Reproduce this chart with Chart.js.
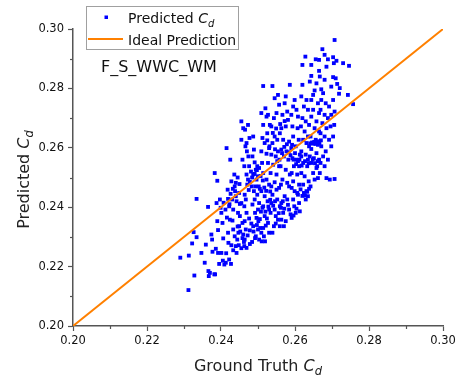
<!DOCTYPE html>
<html>
<head>
<meta charset="utf-8">
<script src="https://cdn.jsdelivr.net/npm/chart.js@4/dist/chart.umd.min.js"></script>
<style>
html,body{margin:0;padding:0;background:#fff;}
#wrap{position:relative;width:468px;height:379px;}
</style>
</head>
<body>
<div id="wrap"><canvas id="c" width="468" height="379"></canvas></div>
<script>
// Axis range and ticks
const axisMin = 0.20;
const axisMax = 0.30;
const majorStep = 0.02;
const minorTicks = [0.21, 0.23, 0.25, 0.27, 0.29];

// Ideal prediction line (y = x) end points
const idealGT = [0.20, 0.30];
const idealPred = [0.20, 0.30];

// Scatter: [ground truth Cd, predicted Cd]
const scatterPairs = [
[0.2290,0.2230],[0.2313,0.2237],[0.2312,0.2121],[0.2328,0.2170],[0.2326,0.2316],[0.2334,0.2299],[0.2334,0.2428],[0.2322,0.2278],
[0.2347,0.2246],[0.2356,0.2213],[0.2359,0.2274],[0.2365,0.2401],[0.2366,0.2185],[0.2367,0.2168],[0.2370,0.2179],[0.2374,0.2308],[0.2376,0.2291],[0.2377,0.2250],[0.2382,0.2174],[0.2384,0.2174],
[0.2383,0.2515],[0.2390,0.2489],[0.2386,0.2260],[0.2388,0.2414],[0.2390,0.2353],[0.2392,0.2323],[0.2392,0.2246],[0.2395,0.2209],[0.2397,0.2426],[0.2399,0.2398],[0.2401,0.2381],[0.2401,0.2246],[0.2404,0.2347],[0.2406,0.2295],
[0.2415,0.2599],[0.2409,0.2207],[0.2413,0.2213],[0.2418,0.2459],[0.2419,0.2428],[0.2422,0.2403],[0.2424,0.2358],[0.2419,0.2314],[0.2420,0.2280],[0.2422,0.2224],[0.2427,0.2209],
[0.2425,0.2560],[0.2428,0.2487],[0.2430,0.2426],[0.2433,0.2392],[0.2436,0.2510],[0.2437,0.2470],[0.2438,0.2454],[0.2440,0.2437],[0.2442,0.2420],[0.2433,0.2325],[0.2437,0.2302],[0.2440,0.2269],[0.2442,0.2246],[0.2444,0.2291],[0.2447,0.2314],[0.2449,0.2336],[0.2451,0.2370],[0.2446,0.2381],[0.2451,0.2411],[0.2449,0.2448],
[0.2455,0.2689],[0.2460,0.2666],[0.2465,0.2661],[0.2455,0.2627],[0.2458,0.2560],[0.2463,0.2538],[0.2466,0.2605],[0.2469,0.2616],[0.2470,0.2588],[0.2473,0.2677],[0.2469,0.2510],[0.2473,0.2493],[0.2471,0.2476],[0.2464,0.2442],[0.2467,0.2426],[0.2463,0.2403],[0.2469,0.2381],[0.2464,0.2353],[0.2467,0.2325],[0.2460,0.2308],[0.2464,0.2291],[0.2463,0.2269],[0.2469,0.2263],[0.2458,0.2347],[0.2455,0.2414],[0.2476,0.2538],[0.2474,0.2571],[0.2477,0.2633],
[0.2487,0.2638],[0.2485,0.2571],[0.2489,0.2594],[0.2491,0.2551],[0.2494,0.2526],[0.2487,0.2510],[0.2496,0.2493],[0.2483,0.2470],[0.2489,0.2454],[0.2491,0.2426],[0.2485,0.2409],[0.2492,0.2381],[0.2496,0.2364],[0.2487,0.2336],[0.2500,0.2325],[0.2494,0.2302],[0.2503,0.2291],[0.2498,0.2538],[0.2500,0.2504],[0.2502,0.2470],[0.2498,0.2442],[0.2503,0.2414],[0.2500,0.2392],[0.2501,0.2353],
[0.2514,0.2808],[0.2520,0.2733],[0.2509,0.2717],[0.2523,0.2705],[0.2527,0.2711],[0.2514,0.2677],[0.2532,0.2677],[0.2512,0.2633],[0.2518,0.2616],[0.2525,0.2649],[0.2509,0.2588],[0.2530,0.2599],[0.2523,0.2580],[0.2511,0.2549],[0.2527,0.2549],[0.2514,0.2515],[0.2523,0.2493],[0.2530,0.2476],[0.2509,0.2454],[0.2518,0.2437],[0.2526,0.2420],[0.2514,0.2403],[0.2530,0.2392],[0.2518,0.2370],[0.2527,0.2347],[0.2514,0.2330],[0.2530,0.2314],[0.2509,0.2314],[0.2516,0.2302],
[0.2539,0.2808],[0.2545,0.2767],[0.2554,0.2778],[0.2557,0.2745],[0.2550,0.2717],[0.2543,0.2700],[0.2536,0.2672],[0.2545,0.2638],[0.2552,0.2627],[0.2539,0.2616],[0.2559,0.2649],[0.2536,0.2577],[0.2548,0.2571],[0.2554,0.2588],[0.2541,0.2543],[0.2557,0.2538],[0.2534,0.2515],[0.2550,0.2510],[0.2545,0.2484],[0.2536,0.2470],[0.2557,0.2465],[0.2539,0.2442],[0.2552,0.2426],[0.2536,0.2414],[0.2559,0.2403],[0.2545,0.2392],[0.2534,0.2381],[0.2548,0.2370],[0.2554,0.2358],[0.2543,0.2336],[0.2559,0.2336],[0.2539,0.2314],[0.2550,0.2459],
[0.2575,0.2773],[0.2586,0.2812],[0.2572,0.2750],[0.2579,0.2722],[0.2566,0.2711],[0.2581,0.2694],[0.2563,0.2666],[0.2575,0.2672],[0.2568,0.2627],[0.2584,0.2621],[0.2563,0.2594],[0.2577,0.2588],[0.2570,0.2571],[0.2582,0.2560],[0.2561,0.2538],[0.2575,0.2526],[0.2586,0.2510],[0.2566,0.2493],[0.2579,0.2482],[0.2562,0.2476],[0.2584,0.2470],[0.2572,0.2437],[0.2563,0.2414],[0.2579,0.2426],[0.2568,0.2381],[0.2584,0.2392],[0.2575,0.2353],[0.2563,0.2358],[0.2570,0.2336],
[0.2599,0.2761],[0.2595,0.2739],[0.2590,0.2711],[0.2604,0.2728],[0.2608,0.2705],[0.2593,0.2672],[0.2607,0.2666],[0.2595,0.2638],[0.2610,0.2627],[0.2590,0.2599],[0.2602,0.2605],[0.2613,0.2577],[0.2593,0.2565],[0.2604,0.2560],[0.2597,0.2538],[0.2611,0.2538],[0.2591,0.2515],[0.2606,0.2510],[0.2595,0.2487],[0.2611,0.2476],[0.2591,0.2465],[0.2599,0.2454],[0.2608,0.2442],[0.2595,0.2426],[0.2611,0.2414],[0.2602,0.2381],[0.2591,0.2364],[0.2613,0.2386],[0.2598,0.2403],
[0.2620,0.2812],[0.2620,0.2879],[0.2628,0.2907],[0.2617,0.2773],[0.2631,0.2761],[0.2624,0.2739],[0.2635,0.2728],[0.2620,0.2700],[0.2629,0.2689],[0.2638,0.2677],[0.2616,0.2672],[0.2626,0.2655],[0.2635,0.2638],[0.2622,0.2627],[0.2631,0.2616],[0.2638,0.2605],[0.2617,0.2588],[0.2629,0.2577],[0.2635,0.2560],[0.2622,0.2549],[0.2633,0.2538],[0.2617,0.2515],[0.2626,0.2504],[0.2637,0.2487],[0.2622,0.2476],[0.2631,0.2454],[0.2624,0.2448],[0.2635,0.2437],[0.2629,0.2426],[0.2617,0.2571],[0.2640,0.2571],
[0.2644,0.2879],[0.2656,0.2898],[0.2644,0.2842],[0.2665,0.2859],[0.2640,0.2823],[0.2658,0.2817],[0.2649,0.2778],[0.2653,0.2793],[0.2644,0.2761],[0.2662,0.2750],[0.2649,0.2728],[0.2665,0.2717],[0.2644,0.2705],[0.2658,0.2689],[0.2653,0.2666],[0.2665,0.2655],[0.2642,0.2638],[0.2656,0.2627],[0.2649,0.2614],[0.2662,0.2610],[0.2644,0.2596],[0.2658,0.2582],[0.2651,0.2565],[0.2665,0.2560],[0.2644,0.2549],[0.2658,0.2532],[0.2649,0.2515],[0.2662,0.2498],[0.2653,0.2493],[0.2642,0.2470],[0.2660,0.2538],
[0.2674,0.2932],[0.2680,0.2913],[0.2665,0.2896],[0.2689,0.2898],[0.2685,0.2873],[0.2667,0.2840],[0.2680,0.2829],[0.2671,0.2797],[0.2676,0.2784],[0.2671,0.2761],[0.2683,0.2750],[0.2692,0.2739],[0.2669,0.2728],[0.2680,0.2711],[0.2689,0.2700],[0.2674,0.2683],[0.2685,0.2666],[0.2669,0.2649],[0.2680,0.2638],[0.2692,0.2627],[0.2671,0.2605],[0.2683,0.2588],[0.2676,0.2571],[0.2689,0.2560],[0.2669,0.2549],[0.2680,0.2538],[0.2685,0.2498],[0.2694,0.2493],[0.2667,0.2515],
[0.2707,0.2963],[0.2703,0.2905],[0.2712,0.2893],[0.2705,0.2885],[0.2703,0.2838],[0.2710,0.2834],[0.2714,0.2815],[0.2698,0.2806],[0.2719,0.2782],[0.2703,0.2761],[0.2707,0.2722],[0.2698,0.2711],[0.2696,0.2672],[0.2706,0.2677],[0.2703,0.2638],[0.2698,0.2605],[0.2707,0.2495],
[0.2730,0.2885],[0.2746,0.2876],[0.2721,0.2801],[0.2743,0.2778],[0.2757,0.2747],
[0.2445,0.2335],[0.2452,0.2318],[0.2458,0.2296],[0.2462,0.2283],[0.2448,0.2272],[0.2455,0.2262],[0.2472,0.2305],[0.2478,0.2322],[0.2482,0.2345],[0.2476,0.2362],[0.2488,0.2318],[0.2492,0.2296],[0.2484,0.2283],[0.2478,0.2276],[0.2497,0.2340],[0.2505,0.2360],[0.2508,0.2385],[0.2512,0.2398],[0.2520,0.2385],[0.2524,0.2362],[0.2521,0.2338],[0.2506,0.2330],[0.2510,0.2285],[0.2519,0.2285],[0.2528,0.2402],[0.2533,0.2425],[0.2541,0.2405],[0.2546,0.2420],[0.2548,0.2345],[0.2556,0.2380],[0.2562,0.2398],[0.2567,0.2420],[0.2571,0.2395],[0.2581,0.2408],[0.2588,0.2376],[0.2596,0.2372],[0.2604,0.2395],[0.2606,0.2448],[0.2615,0.2460],[0.2620,0.2438],[0.2627,0.2440],[0.2633,0.2452],[0.2638,0.2462],
[0.2641,0.2615],[0.2646,0.2618],[0.2652,0.2620],[0.2655,0.2613],[0.2660,0.2622],[0.2666,0.2616],[0.2670,0.2625],[0.2648,0.2560],[0.2654,0.2548],[0.2661,0.2555],[0.2637,0.2548],[0.2627,0.2555],[0.2612,0.2560],[0.2608,0.2555],[0.2618,0.2540],[0.2603,0.2545],[0.2596,0.2560],[0.2600,0.2582],[0.2588,0.2575],[0.2583,0.2585],[0.2592,0.2610],[0.2578,0.2612],[0.2571,0.2603],[0.2565,0.2582],[0.2558,0.2560],[0.2552,0.2555],[0.2546,0.2595],[0.2531,0.2605],[0.2525,0.2625],[0.2540,0.2650],[0.2549,0.2665],[0.2560,0.2680],[0.2572,0.2690],
[0.2478,0.2485],[0.2484,0.2500],[0.2491,0.2512],[0.2497,0.2525],[0.2503,0.2532],[0.2507,0.2505],[0.2513,0.2490],[0.2481,0.2520],[0.2475,0.2458],[0.2493,0.2470],[0.2505,0.2462],[0.2517,0.2466],[0.2522,0.2455],[0.2533,0.2453],
[0.2432,0.2462],[0.2426,0.2445],[0.2445,0.2500],[0.2450,0.2478],[0.2440,0.2482],[0.2423,0.2410],[0.2412,0.2392],[0.2407,0.2415],[0.2416,0.2365],[0.2431,0.2355],[0.2428,0.2272],[0.2433,0.2255],[0.2414,0.2245],[0.2405,0.2220]
];

const FONT = '"DejaVu Sans", Verdana, sans-serif';
const BLUE = '#0000ff';
const ORANGE = '#ff8000';
const AXIS = '#555555';

function drawRich(ctx, parts, x, y, size, align) {
  const widths = parts.map(p => {
    const s = p.sub ? size * 0.72 : size;
    ctx.font = (p.italic ? 'italic ' : '') + s + 'px ' + FONT;
    return ctx.measureText(p.t).width;
  });
  const total = widths.reduce((a, b) => a + b, 0);
  let cx = align === 'center' ? x - total / 2 : x;
  ctx.textAlign = 'left';
  ctx.textBaseline = 'alphabetic';
  parts.forEach((p, i) => {
    const s = p.sub ? size * 0.72 : size;
    ctx.font = (p.italic ? 'italic ' : '') + s + 'px ' + FONT;
    ctx.fillText(p.t, cx, y + (p.sub ? size * 0.28 : 0));
    cx += widths[i];
  });
}

const decorPlugin = {
  id: 'decor',
  afterDraw(chart) {
    const ctx = chart.ctx;
    const xs = chart.scales.x, ys = chart.scales.y;
    const area = chart.chartArea;
    ctx.save();
    // minor ticks
    ctx.strokeStyle = AXIS;
    ctx.lineWidth = 1.2;
    minorTicks.forEach(v => {
      const px = Math.round(xs.getPixelForValue(v)) + 0.5;
      ctx.beginPath(); ctx.moveTo(px, area.bottom); ctx.lineTo(px, area.bottom + 3); ctx.stroke();
      const py = Math.round(ys.getPixelForValue(v)) + 0.5;
      ctx.beginPath(); ctx.moveTo(area.left - 3, py); ctx.lineTo(area.left, py); ctx.stroke();
    });
    ctx.fillStyle = '#222';
    // x title
    drawRich(ctx, [{t:'Ground Truth '},{t:'C',italic:true},{t:'d',italic:true,sub:true}],
      (area.left + area.right) / 2, 371, 16, 'center');
    // y title
    ctx.save();
    ctx.translate(29, (area.top + area.bottom) / 2 + 2);
    ctx.rotate(-Math.PI / 2);
    drawRich(ctx, [{t:'Predicted '},{t:'C',italic:true},{t:'d',italic:true,sub:true}], 0, 0, 16, 'center');
    ctx.restore();
    // annotation
    ctx.fillStyle = '#111';
    drawRich(ctx, [{t:'F_S_WWC_WM'}], 101, 72, 16, 'left');
    // legend box
    ctx.fillStyle = '#fff';
    ctx.fillRect(86.5, 6.5, 152, 43);
    ctx.strokeStyle = '#a0a0a0';
    ctx.lineWidth = 1;
    ctx.strokeRect(86.5, 6.5, 152, 43);
    ctx.fillStyle = BLUE;
    ctx.fillRect(104.5, 15.5, 3.5, 3.5);
    ctx.strokeStyle = ORANGE;
    ctx.lineWidth = 2;
    ctx.beginPath(); ctx.moveTo(88, 39); ctx.lineTo(123, 39); ctx.stroke();
    ctx.fillStyle = '#111';
    drawRich(ctx, [{t:'Predicted '},{t:'C',italic:true},{t:'d',italic:true,sub:true}], 128, 23, 14, 'left');
    drawRich(ctx, [{t:'Ideal Prediction'}], 128, 45, 14, 'left');
    ctx.restore();
  }
};

const tickFmt = v => Number(v).toFixed(2);

new Chart(document.getElementById('c'), {
  type: 'scatter',
  data: {
    datasets: [
      {
        label: 'Ideal Prediction',
        data: idealGT.map((g, i) => ({x: g, y: idealPred[i]})),
        showLine: true,
        borderColor: ORANGE,
        borderWidth: 2,
        pointRadius: 0,
        fill: false,
        order: 0
      },
      {
        label: 'Predicted Cd',
        data: scatterPairs.map(p => ({x: p[0], y: p[1]})),
        pointStyle: 'rect',
        pointRadius: 2.7,
        pointBackgroundColor: BLUE,
        pointBorderWidth: 0,
        backgroundColor: BLUE,
        borderColor: BLUE,
        order: 1
      }
    ]
  },
  options: {
    responsive: false,
    devicePixelRatio: 1,
    animation: false,
    events: [],
    layout: { padding: { left: 0, right: 25, top: 29, bottom: 0 } },
    plugins: { legend: { display: false }, tooltip: { enabled: false } },
    scales: {
      x: {
        type: 'linear', min: axisMin, max: axisMax,
        afterFit: s => { s.height = 53; },
        border: { display: true, color: AXIS, width: 1.5 },
        grid: { drawOnChartArea: false, drawTicks: true, tickLength: 5, color: AXIS, tickWidth: 1.2 },
        ticks: { stepSize: majorStep, callback: tickFmt, color: '#111', padding: 3, maxRotation: 0,
                 font: { family: FONT, size: 11.5 } }
      },
      y: {
        type: 'linear', min: axisMin, max: axisMax,
        afterFit: s => { s.width = 73; },
        border: { display: true, color: AXIS, width: 1.5 },
        grid: { drawOnChartArea: false, drawTicks: true, tickLength: 5, color: AXIS, tickWidth: 1.2 },
        ticks: { stepSize: majorStep, callback: tickFmt, color: '#111', padding: 4,
                 font: { family: FONT, size: 11.5 } }
      }
    }
  },
  plugins: [decorPlugin]
});
</script>
</body>
</html>
